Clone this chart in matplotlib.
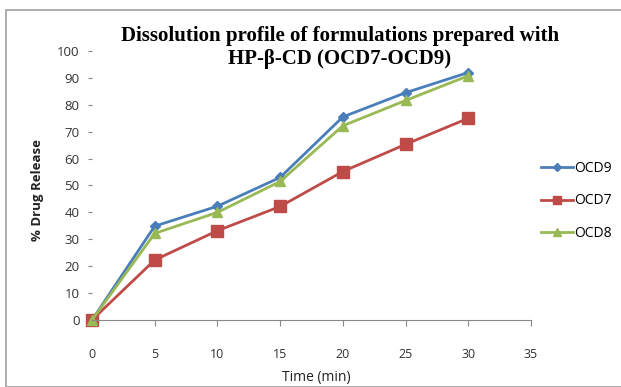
import numpy as np
import matplotlib
matplotlib.use('Agg')
import matplotlib.pyplot as plt
from matplotlib.patches import Rectangle

# data
time_min = [0, 5, 10, 15, 20, 25, 30]
ocd9 = [0, 34.9, 42.3, 53.0, 75.5, 84.5, 92.0]
ocd7 = [0, 22.3, 33.2, 42.2, 55.2, 65.3, 75.0]
ocd8 = [0, 32.2, 40.0, 51.5, 72.2, 81.6, 90.8]
x_ticks = [0, 5, 10, 15, 20, 25, 30, 35]
y_ticks = [0, 10, 20, 30, 40, 50, 60, 70, 80, 90, 100]

plt.rcParams['font.family'] = ['Open Sans', 'DejaVu Sans']

fig = plt.figure(figsize=(6.21, 3.87), dpi=100)
# outer frame (Excel chart area)
fig.patches.append(Rectangle((6 / 621, 0), 1.0, 1 - 10 / 387, transform=fig.transFigure,
                             fill=False, edgecolor='#a0a0a0', linewidth=1.2))

ax = fig.add_axes([92 / 621, 1 - 320 / 387, (531 - 92) / 621, (320 - 51) / 387])

ax.plot(time_min, ocd9, '-', color='#4a7ebb', marker='D', markersize=5, linewidth=2, label='OCD9')
ax.plot(time_min, ocd7, '-', color='#be4b48', marker='s', markersize=8, linewidth=2, label='OCD7')
ax.plot(time_min, ocd8, '-', color='#98b954', marker='^', markersize=7, linewidth=2, label='OCD8')

ax.set_xlim(0, 35)
ax.set_ylim(0, 100)
ax.set_xticks(x_ticks)
ax.set_yticks(y_ticks)
ax.spines['top'].set_visible(False)
ax.spines['right'].set_visible(False)
ax.spines['left'].set_visible(False)
ax.spines['bottom'].set_color('#888888')
ax.tick_params(axis='x', direction='out', length=4, width=0.8, color='#888888',
               pad=16, labelsize=9, labelcolor='#333333')
ax.tick_params(axis='y', direction='out', length=3, width=0.8, color='#888888',
               pad=6, labelsize=9.5, labelcolor='#333333')
for line in ax.get_lines():
    line.set_clip_on(False)

fig.text(316 / 621, 1 - 378 / 387, 'Time (min)', ha='center', va='center', fontsize=10,
         color='#222222')
fig.text(38 / 621, 1 - 190 / 387, '% Drug Release', ha='center', va='center', fontsize=9.5,
         rotation=90, fontweight='bold', color='#222222')
fig.text(340 / 621, 1 - 47.5 / 387, 'Dissolution profile of formulations prepared with\nHP-β-CD (OCD7-OCD9)',
         ha='center', va='center', fontsize=15, fontweight='bold', family='Liberation Serif',
         linespacing=1.2)

ax.legend(loc='center left', bbox_to_anchor=(541 / 621, 1 - 201 / 387), bbox_transform=fig.transFigure,
          frameon=False, fontsize=10, handlelength=2.3, handletextpad=0.05, labelspacing=1.25,
          borderpad=0, borderaxespad=0, markerscale=0.75)

fig.savefig('out.png', dpi=100)
